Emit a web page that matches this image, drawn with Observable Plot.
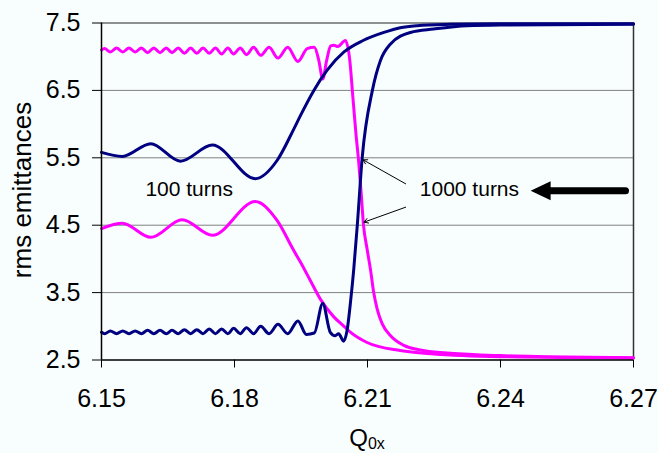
<!DOCTYPE html>
<html><head><meta charset="utf-8">
<script src="https://cdn.jsdelivr.net/npm/d3@7"></script>
<script src="https://cdn.jsdelivr.net/npm/@observablehq/plot@0.6"></script>
<style>
html,body{margin:0;padding:0;background:#f8fefe;}
#chart svg{display:block;}
</style>
</head><body><div id="chart"></div>
<script>
// ---- data (Q0x, rms emittance) ----
const xTicks = [6.15, 6.18, 6.21, 6.24, 6.27];
const yTicks = [2.5, 3.5, 4.5, 5.5, 6.5, 7.5];

const navy100 = [
[6.1500,5.58],[6.1547,5.52],[6.1611,5.71],[6.1678,5.45],[6.1750,5.69],[6.1847,5.19],[6.1896,5.46],[6.1934,5.93],[6.1949,6.13],[6.1979,6.50],[6.2009,6.80],[6.2047,7.07],[6.2090,7.24],[6.2137,7.36],[6.2174,7.43],[6.2212,7.46],[6.2287,7.48],[6.2400,7.49],[6.2700,7.49]
];
const magenta100 = [
[6.1500,4.45],[6.1547,4.53],[6.1611,4.32],[6.1682,4.58],[6.1750,4.35],[6.1847,4.85],[6.1896,4.57],[6.1934,4.12],[6.1949,3.95],[6.1971,3.68],[6.1994,3.40],[6.2024,3.14],[6.2047,3.00],[6.2062,2.91],[6.2099,2.76],[6.2174,2.64],[6.2250,2.59],[6.2400,2.55],[6.2700,2.53]
];
const magenta1000 = [
[6.1500,7.10],[6.1507,7.12],[6.1520,7.07],[6.1534,7.13],[6.1548,7.07],[6.1562,7.13],[6.1576,7.07],[6.1590,7.13],[6.1604,7.06],[6.1618,7.13],[6.1632,7.06],[6.1646,7.13],[6.1659,7.06],[6.1673,7.13],[6.1687,7.05],[6.1701,7.13],[6.1715,7.05],[6.1729,7.13],[6.1743,7.05],[6.1757,7.13],[6.1771,7.04],[6.1785,7.13],[6.1798,7.04],[6.1813,7.13],[6.1827,7.03],[6.1843,7.14],[6.1859,7.02],[6.1878,7.14],[6.1898,6.98],[6.1920,7.14],[6.1943,6.93],[6.1964,7.12],[6.1980,7.14],[6.1990,6.95],[6.1999,6.67],[6.2008,6.95],[6.2017,7.16],[6.2024,7.17],[6.2033,7.15],[6.2050,7.24],[6.2060,6.95],[6.2067,6.40],[6.2074,5.85],[6.2080,5.45],[6.2086,4.95],[6.2091,4.50],[6.2099,4.15],[6.2107,3.83],[6.2114,3.50],[6.2122,3.25],[6.2133,3.04],[6.2152,2.86],[6.2181,2.72],[6.2226,2.64],[6.2287,2.60],[6.2400,2.565],[6.2500,2.55],[6.2600,2.54],[6.2700,2.535]
];
const navy1000 = [
[6.1500,2.91],[6.1507,2.89],[6.1520,2.93],[6.1534,2.89],[6.1548,2.93],[6.1562,2.89],[6.1576,2.93],[6.1590,2.89],[6.1604,2.94],[6.1618,2.89],[6.1632,2.94],[6.1646,2.89],[6.1659,2.94],[6.1673,2.89],[6.1687,2.95],[6.1701,2.89],[6.1715,2.95],[6.1729,2.89],[6.1743,2.96],[6.1757,2.89],[6.1771,2.96],[6.1785,2.89],[6.1798,2.97],[6.1813,2.89],[6.1827,2.98],[6.1843,2.89],[6.1859,3.00],[6.1878,2.89],[6.1898,3.03],[6.1920,2.89],[6.1943,3.08],[6.1962,2.88],[6.1980,2.90],[6.1999,3.34],[6.2016,2.91],[6.2027,2.86],[6.2035,2.89],[6.2046,2.78],[6.2054,2.94],[6.2062,3.38],[6.2069,3.85],[6.2077,4.50],[6.2088,5.50],[6.2111,6.50],[6.2129,6.94],[6.2152,7.19],[6.2197,7.36],[6.2249,7.41],[6.2325,7.46],[6.2400,7.47],[6.2700,7.48]
];

// annotations (in data units)
const labelTexts = ["100 turns", "1000 turns"];
const labelQ = [6.1599, 6.2218];
const labelV = [5.04, 5.04];
const pointerArrows = [
  {q1: 6.2186, v1: 5.114, q2: 6.2090, v2: 5.470},
  {q1: 6.2186, v1: 4.767, q2: 6.2092, v2: 4.545}
];
const bigArrow = [{q1: 6.2682, q2: 6.2468, v: 5.01}];

const FONT = "'Liberation Sans', Arial, Helvetica, sans-serif";
const NAVY = "#000080";
const MAGENTA = "#ff00ff";

const toXY = (arr) => arr.map(([q, v]) => ({q, v}));
const lineOpts = (color) => ({x: "q", y: "v", stroke: color, strokeWidth: 3, curve: "monotone-x", strokeLinejoin: "round"});

const labels = labelTexts.map((t, i) => ({t, q: labelQ[i], v: labelV[i]}));

const arrowHead = {
  draw(ctx) { ctx.moveTo(0, 0); ctx.lineTo(20, -9.5); ctx.lineTo(20, 9.5); ctx.closePath(); }
};

const chart = Plot.plot({
  width: 658, height: 453,
  marginLeft: 101, marginRight: 25, marginTop: 22.5, marginBottom: 93.5,
  style: {background: "#f8fefe", fontFamily: FONT, fontSize: "25px", color: "black"},
  x: {domain: [6.15, 6.27]},
  y: {domain: [2.5, 7.5]},
  marks: [
    Plot.ruleY(yTicks.filter(d => d > 2.5 && d < 7.5), {stroke: "#808080", strokeWidth: 1}),
    Plot.ruleY([7.5], {stroke: "#222", strokeWidth: 1}),
    Plot.ruleX([6.27], {stroke: "#333", strokeWidth: 1.5}),
    Plot.axisX(xTicks, {tickSize: 8, tickPadding: 21, tickFormat: d => d.toFixed(2), label: null, stroke: "black", fill: "black"}),
    Plot.axisY(yTicks, {tickSize: 9, tickPadding: 12, tickFormat: d => d.toFixed(1), label: null, stroke: "black", fill: "black"}),
    Plot.line(toXY(magenta100), lineOpts(MAGENTA)),
    Plot.line(toXY(magenta1000), lineOpts(MAGENTA)),
    Plot.line(toXY(navy100), lineOpts(NAVY)),
    Plot.line(toXY(navy1000), lineOpts(NAVY)),
    Plot.ruleX([6.15], {stroke: "black", strokeWidth: 1.5}),
    Plot.ruleY([2.5], {stroke: "black", strokeWidth: 1.5}),
    Plot.text(labels, {x: "q", y: "v", text: "t", textAnchor: "start", lineAnchor: "middle", fontSize: 21, fill: "black", fontFamily: FONT}),
    Plot.arrow(pointerArrows, {x1: "q1", y1: "v1", x2: "q2", y2: "v2", stroke: "black", strokeWidth: 1, headLength: 7}),
    Plot.arrow(bigArrow, {x1: "q1", y1: "v", x2: "q2", y2: "v", stroke: "black", strokeWidth: 7, headLength: 0, insetEnd: 16}),
    Plot.dot(bigArrow, {x: "q2", y: "v", symbol: arrowHead, r: 5, fill: "black", stroke: "none"})
  ]
});

document.getElementById("chart").appendChild(chart);

const svg = d3.select(chart);
svg.append("text")
  .attr("transform", "translate(31,190) rotate(-90)")
  .attr("text-anchor", "middle")
  .attr("font-family", FONT).attr("font-size", 26).attr("fill", "black")
  .text("rms emittances");
const xl = svg.append("text")
  .attr("x", 367).attr("y", 446)
  .attr("text-anchor", "middle")
  .attr("font-family", FONT).attr("font-size", 24).attr("fill", "black");
xl.append("tspan").text("Q");
xl.append("tspan").attr("font-size", 16).attr("dy", 3).text("0x");
</script>
</body></html>
